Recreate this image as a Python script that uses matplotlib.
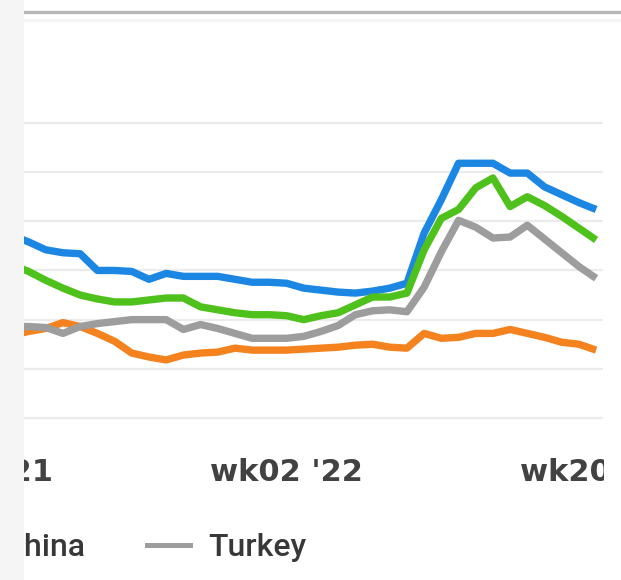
import matplotlib
matplotlib.use("Agg")
import matplotlib.pyplot as plt
from matplotlib.lines import Line2D
from matplotlib.patches import Rectangle

# ---- data (weekly index: 0 = wk36 '21, 18 = wk02 '22, 36 = wk20 '22) ----
weeks = list(range(2, 37))
tick_pos = [0, 18, 36]
tick_labels = ["wk36 '21", "wk02 '22", "wk20 '22"]

blue_vals = [186, 179, 171, 168, 167, 150, 150, 149, 141, 147, 144, 144, 144, 141, 138,
             138, 137, 132, 130, 128, 127, 129, 132, 137, 188, 222, 259, 259, 259, 249,
             249, 235, 227, 219, 212]
green_vals = [156, 149, 140, 132, 125, 121, 118, 118, 120, 122, 122, 113, 110, 107, 105,
              105, 104, 100, 104, 107, 115, 123, 123, 127, 171, 203, 212, 234, 244, 215,
              225, 216, 205, 193, 181]
china_vals = [84, 88, 91, 97, 93, 86, 78, 66, 62, 59, 64, 66, 67, 71, 69,
              69, 69, 70, 71, 72, 74, 75, 72, 71, 86, 81, 82, 86, 86, 90,
              86, 82, 77, 75, 69]
turkey_vals = [93, 93, 92, 86, 93, 96, 98, 100, 100, 100, 90, 95, 91, 86, 81,
               81, 81, 83, 88, 94, 105, 109, 110, 108, 133, 169, 201, 194, 183, 184,
               196, 182, 168, 154, 142]

series = [
    ("Series 1", blue_vals, "#1c87e3"),
    ("Series 2", green_vals, "#4fc11c"),
    ("China", china_vals, "#f4821f"),
    ("Turkey", turkey_vals, "#9d9d9d"),
]

W, H = 621, 580
fig = plt.figure(figsize=(W / 100, H / 100), dpi=100)
fig.patch.set_facecolor("white")

def fx(px):
    return px / W

def fy(py):
    return (H - py) / H

# axes placement (pixel based)
ax_left_px, ax_right_px = -23, 603
ax_bottom_px = 422.9
ax_h_px = 309.8
ax = fig.add_axes([fx(ax_left_px), fy(ax_bottom_px), (ax_right_px - ax_left_px) / W, ax_h_px / H])
ax.set_xlim(0, 36.4)
ax.set_ylim(-5, 310)
ax.set_facecolor("white")

for name, vals, col in series:
    ax.plot(weeks, vals, color=col, lw=5.3, solid_joinstyle="round",
            solid_capstyle="butt", label=name, zorder=3)

ax.set_yticks([0, 50, 100, 150, 200, 250, 300])
ax.set_yticklabels([])
ax.grid(axis="y", color="#ebebeb", lw=1.6, zorder=0)
ax.grid(axis="x", visible=False)
for s in ax.spines.values():
    s.set_visible(False)
ax.tick_params(axis="both", length=0)
ax.set_xticks(tick_pos)
ax.set_xticklabels(tick_labels, fontsize=22, fontweight="bold", color="#424242",
                   family="DejaVu Sans")
ax.tick_params(axis="x", pad=25)

# legend (manual, visible part)
fig.text(fx(85), fy(556), "China", ha="right", va="baseline", fontsize=23,
         family="Roboto", fontweight="medium", color="#383838")
fig.add_artist(Line2D([fx(147), fx(190)], [fy(545), fy(545)], color="#9d9d9d", lw=3.6))
fig.text(fx(208), fy(556), "Turkey", ha="left", va="baseline", fontsize=23,
         family="Roboto", fontweight="medium", color="#383838")

# top divider line
fig.add_artist(Line2D([fx(24), 1], [fy(12), fy(12)], color="#b8b8b8", lw=2.4))
fig.add_artist(Line2D([fx(24), 1], [fy(20), fy(20)], color="#f3f3f3", lw=2.0))

# crop masks: left page strip and right edge
fig.add_artist(Rectangle((0, 0), fx(24), 1, transform=fig.transFigure,
                         facecolor="#f5f5f5", edgecolor="none", zorder=10))
fig.add_artist(Rectangle((fx(604), fy(505)), 1 - fx(604), fy(440) - fy(505),
                         transform=fig.transFigure, facecolor="white",
                         edgecolor="none", zorder=10))

fig.savefig("out.png", dpi=100, facecolor="white")
